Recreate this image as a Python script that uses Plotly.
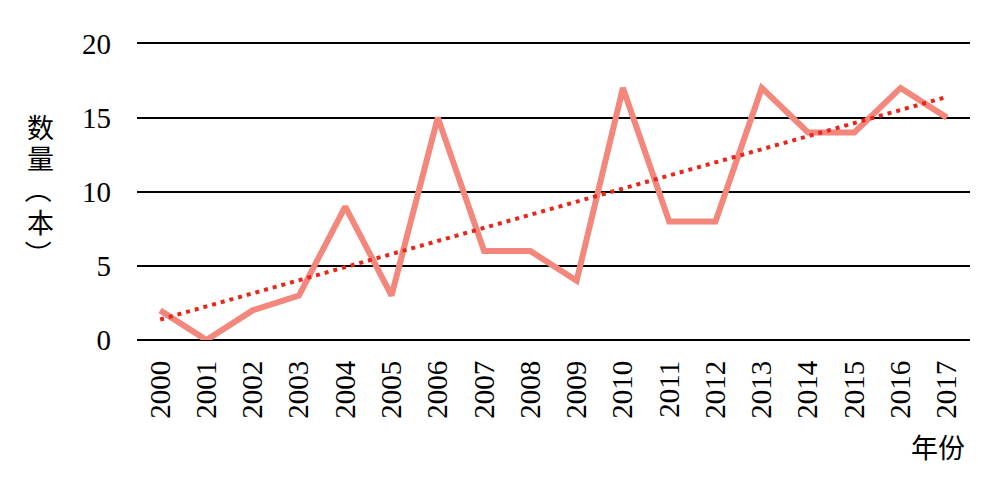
import numpy as np
import plotly.graph_objects as go

years = [str(y) for y in range(2000, 2018)]
counts = [2, 0, 2, 3, 9, 3, 15, 6, 6, 4, 17, 8, 8, 17, 14, 14, 17, 15]
y_ticks = [0, 5, 10, 15, 20]
y_title_chars = ["数", "量", "（", "本", "）"]
x_title = "年份"

xi = np.arange(len(counts))
slope, intercept = np.polyfit(xi, counts, 1)
trend = list(slope * xi + intercept)

serif = "'Times New Roman', 'Liberation Serif', 'DejaVu Serif', serif"
cjk = "'Noto Sans CJK SC'"

# page body has an 8px default margin: work in screen pixels, then shift
OFF = 8
W, H = 995 - OFF, 477 - OFF
PL, PR = 137 - OFF, 970 - OFF
Y20 = 43 - OFF
Y0 = 340 - OFF
YMAX = 20.1
ppu = (Y0 - Y20) / 20.0
PT = Y20 - (YMAX - 20) * ppu
plot_w = PR - PL
plot_h = Y0 - PT

fig = go.Figure()
fig.add_trace(go.Scatter(x=years, y=counts, mode="lines",
                         line=dict(color="#F4877C", width=6), showlegend=False))
fig.add_trace(go.Scatter(x=years, y=trend, mode="lines",
                         line=dict(color="#E8261A", width=4, dash="4px,5px"), showlegend=False))

def px(x):
    return (x - OFF - PL) / plot_w

def py(y):
    return (Y0 - (y - OFF)) / plot_h

annotations = []
for ch, yc in zip(y_title_chars, [126, 157, 189, 221, 253]):
    rot = 90 if ch in "（）" else 0
    annotations.append(dict(text=ch, x=px(40), y=py(yc), xref="paper", yref="paper",
                            showarrow=False, textangle=rot,
                            font=dict(family=cjk, size=27, color="black"),
                            xanchor="center", yanchor="middle"))
annotations.append(dict(text=x_title, x=px(938), y=py(447), xref="paper", yref="paper",
                        showarrow=False, font=dict(family=cjk, size=27, color="black"),
                        xanchor="center", yanchor="middle"))

fig.update_layout(
    width=W, height=H,
    margin=dict(l=PL, r=W - PR, t=PT, b=H - Y0, autoexpand=False),
    plot_bgcolor="white", paper_bgcolor="white",
    font=dict(family=serif, size=29, color="black"),
    xaxis=dict(type="category", range=[-0.5, 17.5], tickangle=-90,
               showgrid=False, showline=False, ticks="", automargin=False,
               tickfont=dict(family=serif, size=29, color="black"), ticklabelstandoff=14),
    yaxis=dict(range=[0, YMAX], tickvals=y_ticks, showgrid=True, gridcolor="black",
               gridwidth=1.5, zeroline=True, zerolinecolor="black", zerolinewidth=2,
               ticks="", showline=False, automargin=False,
               tickfont=dict(family=serif, size=29, color="black"),
               ticklabelstandoff=25),
    annotations=annotations,
)

fig.write_html("out.html")
